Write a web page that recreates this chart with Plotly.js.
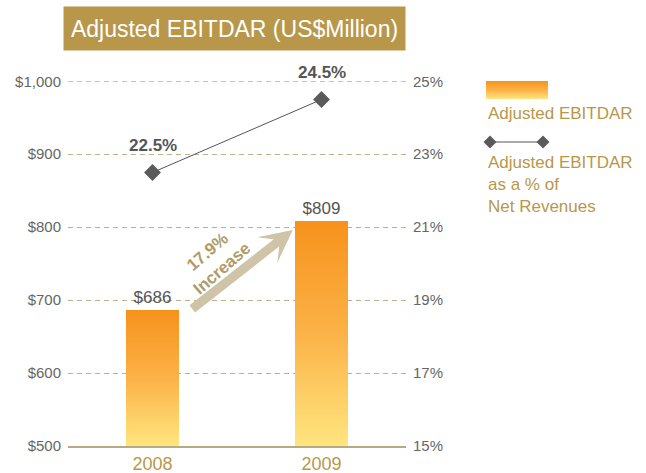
<!DOCTYPE html>
<html>
<head>
<meta charset="utf-8">
<script src="https://cdn.plot.ly/plotly-3.0.1.min.js"></script>
<style>
  html, body { margin: 0; padding: 0; background: #fff; }
  #chart { width: 646px; height: 473px; }
</style>
</head>
<body>
<div id="chart"></div>
<script>
// Adjusted EBITDAR values and margin on net revenues
const years = ['2008', '2009'];
const ebitdar = [686, 809];            // US$ million
const pctRevenue = [22.5, 24.5];       // % of net revenues
const changeLabel = '17.9%<br>Increase';
const legendBarLabel = 'Adjusted EBITDAR';
const legendLineLabel = 'Adjusted EBITDAR<br>as a % of<br>Net Revenues';

const GOLD = '#B8974A';
const GREY = '#5a5a5a';
const GRID = '#BDB08C';
const FONT = 'Liberation Sans, Arial, sans-serif';

const bars = {
    x: years,
    y: ebitdar,
    type: 'bar',
    width: 0.31,
    marker: { color: '#FAAA38' },
    text: ebitdar.map(v => '$' + v),
    texttemplate: '%{text}',
    textposition: 'outside',
    textfont: { size: 17, color: '#555' },
    hoverinfo: 'skip'
};

const ratio = {
    x: years,
    y: pctRevenue,
    yaxis: 'y2',
    type: 'scatter',
    mode: 'lines+markers',
    line: { color: '#555', width: 1 },
    marker: { symbol: 'diamond', size: 13, color: GREY },
    cliponaxis: false,
    hoverinfo: 'skip'
};

// % labels above the line points (category index for x)
const pctNotes = years.map((yr, i) => ({
    x: i, y: pctRevenue[i], xref: 'x', yref: 'y2',
    text: pctRevenue[i].toFixed(1) + '%',
    showarrow: false, yshift: 27,
    font: { size: 17, color: '#555', weight: 'bold' }
}));

const annotations = [
    ...pctNotes,
    { // title box
        xref: 'paper', yref: 'paper', x: 0.4926, y: 1.1438,
        xanchor: 'center', yanchor: 'middle',
        text: 'Adjusted EBITDAR (US$Million)',
        showarrow: false, bgcolor: GOLD, width: 331, height: 33, borderpad: 5,
        font: { size: 23, color: '#fff' }
    },
    { // growth arrow
        xref: 'x', yref: 'y', x: 0.83, y: 796, ax: -102, ay: 80,
        text: '', showarrow: true, arrowcolor: '#CFC4A8',
        arrowwidth: 9, arrowhead: 3, arrowsize: 0.6
    },
    {
        xref: 'x', yref: 'y', x: 0.365, y: 755,
        text: changeLabel, showarrow: false, textangle: -41,
        font: { size: 17, color: '#AE9C68', weight: 'bold' }
    },
    { // legend texts
        xref: 'paper', yref: 'paper', x: 1.2367, y: 0.9123,
        xanchor: 'left', yanchor: 'middle', align: 'left',
        text: legendBarLabel, showarrow: false,
        font: { size: 17, color: GOLD }
    },
    {
        xref: 'paper', yref: 'paper', x: 1.2367, y: 0.8082,
        xanchor: 'left', yanchor: 'top', align: 'left',
        text: legendLineLabel, showarrow: false,
        font: { size: 17, color: GOLD }
    }
];

const diamond = 'M -6.5,0 L 0,6.5 L 6.5,0 L 0,-6.5 Z';
const shapes = [
    { // top gridline at the range edge ($1,000)
        type: 'line', xref: 'paper', yref: 'y',
        x0: 0, x1: 1, y0: 1000, y1: 1000, layer: 'below',
        line: { color: GRID, width: 1, dash: '5px,4px' }
    },
    { // legend swatch, gradient applied after render
        type: 'rect', xref: 'paper', yref: 'paper',
        x0: 1.2367, x1: 1.4201, y0: 0.9507, y1: 1.0,
        fillcolor: '#FAAA39', line: { width: 0 }
    },
    {
        type: 'line', xref: 'paper', yref: 'paper',
        x0: 1.2485, x1: 1.4053, y0: 0.8329, y1: 0.8329,
        line: { color: '#555', width: 1 }
    },
    ...[1.2485, 1.4053].map(px => ({
        type: 'path', xref: 'paper', yref: 'paper',
        xsizemode: 'pixel', ysizemode: 'pixel', xanchor: px, yanchor: 0.8329,
        path: diamond, fillcolor: GREY, line: { width: 0 }
    }))
];

const layout = {
    width: 646,
    height: 473,
    margin: { l: 68, r: 240, t: 81, b: 27 },
    font: { family: FONT },
    paper_bgcolor: '#fff',
    plot_bgcolor: '#fff',
    showlegend: false,
    bargap: 0,
    xaxis: {
        type: 'category',
        range: [-0.5, 1.5],
        showline: true, linecolor: '#B8AA80', linewidth: 2,
        ticks: '', tickfont: { size: 18, color: GOLD },
        fixedrange: true
    },
    yaxis: {
        range: [500, 1000.4], tick0: 500, dtick: 100,
        tickprefix: '$', tickformat: ',d',
        tickfont: { size: 15, color: '#666' },
        gridcolor: GRID, griddash: '5px,4px', gridwidth: 1,
        zeroline: false, ticklabelstandoff: 6,
        fixedrange: true
    },
    yaxis2: {
        overlaying: 'y', side: 'right',
        range: [15, 25.008], tick0: 15, dtick: 2, ticksuffix: '%',
        tickfont: { size: 15, color: '#666' },
        showgrid: false, zeroline: false, ticklabelstandoff: 6,
        fixedrange: true
    },
    annotations: annotations,
    shapes: shapes
};

const STOPS = [['0', '#F7921C'], ['0.5', '#FBB247'], ['1', '#FFE57F']];

function addGradient(defs, id, attrs) {
    const ns = 'http://www.w3.org/2000/svg';
    const grad = document.createElementNS(ns, 'linearGradient');
    grad.setAttribute('id', id);
    Object.entries(attrs).forEach(([k, v]) => grad.setAttribute(k, v));
    STOPS.forEach(([o, c]) => {
        const s = document.createElementNS(ns, 'stop');
        s.setAttribute('offset', o); s.setAttribute('stop-color', c);
        grad.appendChild(s);
    });
    defs.appendChild(grad);
}

Plotly.newPlot('chart', [bars, ratio], layout, { displayModeBar: false, staticPlot: true })
    .then(gd => {
        // orange-to-yellow vertical gradient for bars and legend swatch
        const svg = gd.querySelector('.main-svg');
        let defs = svg.querySelector('defs');
        if (!defs) {
            defs = document.createElementNS('http://www.w3.org/2000/svg', 'defs');
            svg.prepend(defs);
        }
        const plotH = gd._fullLayout._size.h;
        gd.querySelectorAll('.bars path').forEach((p, i) => {
            const box = p.getBBox();
            const id = 'barGrad' + i;
            addGradient(defs, id, {
                gradientUnits: 'userSpaceOnUse',
                x1: 0, y1: box.y, x2: 0, y2: plotH
            });
            p.style.fill = 'url(#' + id + ')';
        });
        addGradient(defs, 'swatchGrad', { x1: 0, y1: 0, x2: 0, y2: 1 });
        gd.querySelectorAll('.shapelayer path').forEach(p => {
            if ((p.style.fill || '').replace(/\s/g, '') === 'rgb(250,170,57)') {
                p.style.fill = 'url(#swatchGrad)';
            }
        });
    });
</script>
</body>
</html>
